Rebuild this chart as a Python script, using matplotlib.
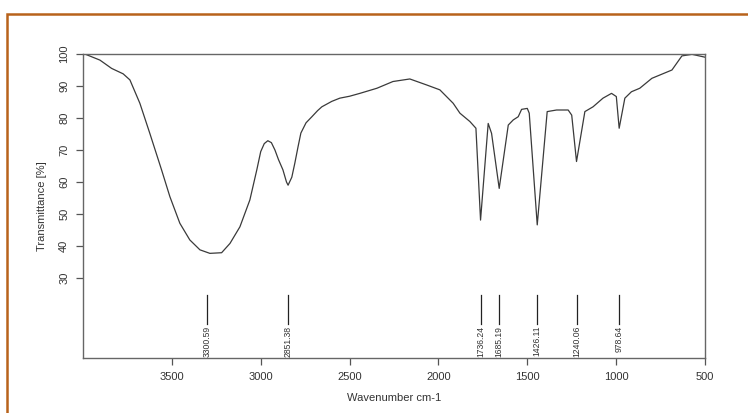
import matplotlib
matplotlib.use("Agg")
import matplotlib.pyplot as plt
from matplotlib.patches import Rectangle

plt.rcParams['font.family'] = ['Liberation Sans', 'DejaVu Sans']

# spectrum (wavenumber cm-1, transmittance %)
wavenumber = [4000, 3990, 3905, 3839, 3774, 3736, 3680, 3624, 3558, 3511,
              3455, 3399, 3342, 3286, 3220, 3173, 3117, 3061, 3022, 3000,
              2980, 2960, 2940, 2920, 2900, 2875, 2855, 2846, 2825, 2808,
              2790, 2774, 2745, 2712, 2680, 2656, 2600, 2555, 2500, 2442,
              2346, 2256, 2161, 2065, 1992, 1917, 1879, 1823, 1789, 1763,
              1720, 1701, 1658, 1607, 1579, 1551, 1532, 1500, 1489, 1444,
              1388, 1335, 1270, 1250, 1223, 1176, 1130, 1074, 1026, 999,
              983, 951, 914, 867, 799, 686, 630, 573, 500]
transmittance = [100, 100, 98.1, 95.5, 93.8, 91.9, 84.6, 75.2, 63.8, 55.4,
                 47.1, 41.9, 38.8, 37.7, 37.9, 40.8, 46, 54.4, 63.8, 69.5,
                 72, 72.9, 72.3, 70, 67, 63.8, 60, 59, 61.5, 65.9,
                 71, 75.3, 78.5, 80.4, 82.3, 83.5, 85.2, 86.2, 86.8, 87.7,
                 89.3, 91.4, 92.2, 90.3, 88.8, 84.6, 81.5, 78.9, 76.8, 48.1,
                 78.3, 75.2, 58, 77.8, 79.4, 80.4, 82.7, 83, 81.5, 46.6,
                 82, 82.5, 82.5, 80.9, 66.4, 82, 83.5, 86.2, 87.7, 86.7,
                 76.8, 86.2, 88.2, 89.3, 92.4, 95, 99.4, 99.9, 99]

# marker lines as placed in the picture, with their printed labels
peak_pos = [3303, 2846, 1763, 1658, 1444, 1223, 983]
peak_labels = ["3300.59", "2851.38", "1736.24", "1685.19", "1426.11", "1240.06", "978.64"]

xticks = [3500, 3000, 2500, 2000, 1500, 1000, 500]
yticks = [30, 40, 50, 60, 70, 80, 90, 100]

fig = plt.figure(figsize=(7.48, 4.13), dpi=100)
ax = fig.add_axes([83/748, 1-358/413, (705-83)/748, (358-54)/413])

ax.plot(wavenumber, transmittance, color="#3a3a3a", lw=0.9)

# peak marker lines + labels
for p, lab in zip(peak_pos, peak_labels):
    ax.plot([p, p], [24.7, 15.5], color="#222222", lw=0.9)
    ax.text(p, 15, lab, rotation=90, ha="center", va="top", fontsize=6.2, color="#333333")

ax.set_xlim(4000, 500)
ax.set_ylim(5, 100)
ax.set_xticks(xticks)
ax.set_yticks(yticks)
ax.set_yticklabels([str(v) for v in yticks], rotation=90, va="center")
ax.tick_params(colors="#555555", labelcolor="#333333", labelsize=8, length=5, width=0.9)
ax.tick_params(axis="y", pad=5)
ax.tick_params(axis="x", pad=5)
for s in ax.spines.values():
    s.set_color("#666666")
    s.set_linewidth(1.0)

ax.set_xlabel("Wavenumber cm-1", fontsize=8, color="#333333", labelpad=8)
ax.set_ylabel("Transmittance [%]", fontsize=8, color="#333333", labelpad=9)

# orange frame around the figure
fig.patches.append(Rectangle((7/748, -0.1), 1.2, 1-14/413+0.1, transform=fig.transFigure,
                             fill=False, edgecolor="#b8621b", lw=1.8))

fig.savefig("out.png", dpi=100)
